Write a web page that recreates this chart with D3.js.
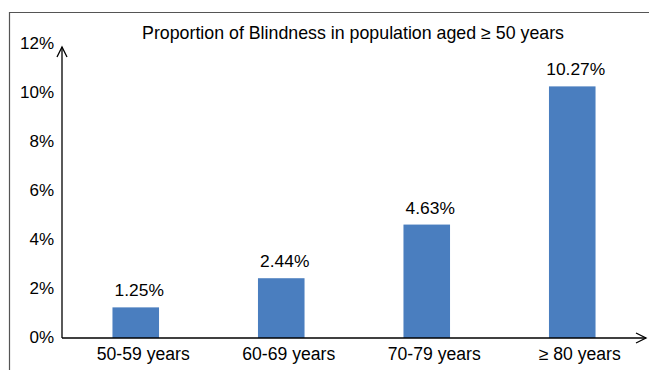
<!DOCTYPE html>
<html><head><meta charset="utf-8">
<script src="https://cdn.jsdelivr.net/npm/d3@7"></script>
<style>body{margin:0;background:#fff}svg{display:block;font-family:"Liberation Sans",Arial,sans-serif}</style>
</head><body><svg id="c" width="649" height="370"></svg>
<script>
const categories = ["50-59 years", "60-69 years", "70-79 years", "\u2265 80 years"];
const values = [1.25, 2.44, 4.63, 10.27];
const valueLabels = ["1.25%", "2.44%", "4.63%", "10.27%"];
const yTicks = [0, 2, 4, 6, 8, 10, 12];
const title = "Proportion of Blindness in population aged \u2265 50 years";

const svg = d3.select("#c");
// frame
svg.append("path").attr("d", "M9.5,372 V12.5 H660").attr("fill", "none").attr("stroke", "#555").attr("stroke-width", 1.2);

const x0 = 63, x1 = 645, yBase = 338, yTop = 44;
const x = d3.scaleBand().domain(categories).range([x0, x1]).paddingInner(0.68).paddingOuter(0.34);
const y = d3.scaleLinear().domain([0, 12]).range([yBase, yTop]);

svg.append("text").attr("x", 353).attr("y", 39).attr("text-anchor", "middle")
  .attr("font-size", 17.8).attr("fill", "#000").text(title);

// bars
svg.selectAll("rect.bar").data(values).join("rect").attr("class", "bar")
  .attr("x", (d, i) => x(categories[i])).attr("width", x.bandwidth())
  .attr("y", d => y(d)).attr("height", d => yBase - y(d)).attr("fill", "#4a7ebf");

svg.selectAll("text.val").data(values).join("text").attr("class", "val")
  .attr("x", (d, i) => x(categories[i]) + x.bandwidth() / 2 + 3.5).attr("y", d => y(d) - 11)
  .attr("text-anchor", "middle").attr("font-size", 17.4).text((d, i) => valueLabels[i]);

// y tick labels
svg.selectAll("text.yt").data(yTicks).join("text").attr("class", "yt")
  .attr("x", 54).attr("y", d => y(d) + 5).attr("text-anchor", "end").attr("font-size", 17)
  .text(d => d + "%");

// x labels
svg.selectAll("text.xt").data(categories).join("text").attr("class", "xt")
  .attr("x", d => x(d) + x.bandwidth() / 2 + 7.5).attr("y", 360).attr("text-anchor", "middle")
  .attr("font-size", 17.6).text(d => d);

// axes with arrows
const ax = svg.append("g").attr("stroke", "#000").attr("stroke-width", 1.3).attr("fill", "none");
ax.append("line").attr("x1", x0 - 1).attr("y1", yBase).attr("x2", x0 - 1).attr("y2", yTop + 3);
ax.append("path").attr("d", `M${x0 - 6},${yTop + 13} L${x0 - 1},${yTop + 3} L${x0 + 4},${yTop + 13}`);
ax.append("line").attr("x1", x0 - 1).attr("y1", yBase).attr("x2", x1 + 1).attr("y2", yBase);
ax.append("path").attr("d", `M${x1 - 9},${yBase - 5} L${x1 + 1},${yBase} L${x1 - 9},${yBase + 5}`);
</script></body></html>
